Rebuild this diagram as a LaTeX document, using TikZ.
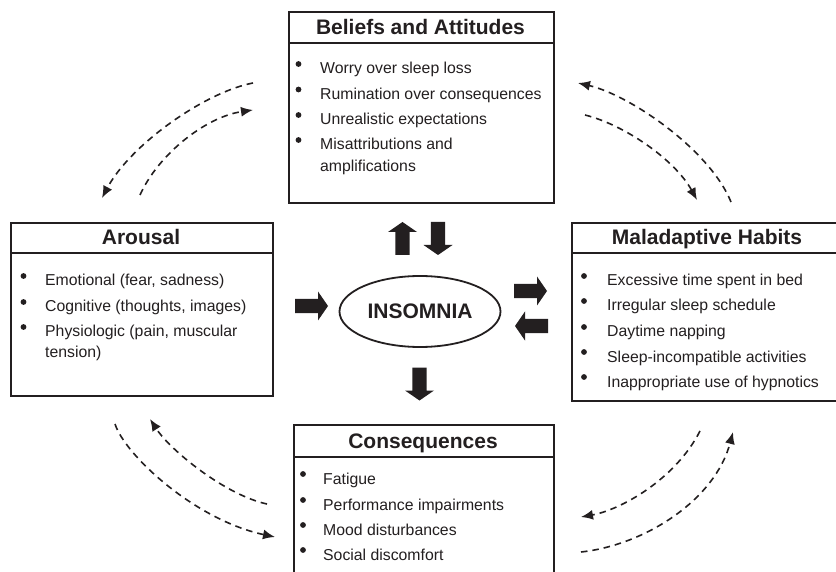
\documentclass[tikz,border=0pt]{standalone}
\usepackage{fontspec}
\setmainfont{Liberation Sans}
\usetikzlibrary{arrows.meta,shapes.geometric}
\definecolor{ink}{RGB}{35,31,32}
\begin{document}
\begin{tikzpicture}[x=1pt,y=-1pt,
  box/.style={draw=ink,line width=1.8pt,inner sep=0,anchor=north west},
  rule/.style={draw=ink,line width=1.8pt},
  head/.style={font=\fontsize{21}{25}\selectfont\bfseries,text=ink,inner sep=0,anchor=base},
  item/.style={font=\fontsize{15.8}{19}\selectfont,text=ink,inner sep=0,anchor=base west},
  dot/.style={fill=ink},
  loop/.style={draw=ink,line width=1.6pt,dash pattern=on 6.5pt off 5pt,-{Latex[length=12pt,width=10pt]}},
  blk/.pic={\fill[ink] (-16.5,-7.2) -- (6.5,-7.2) -- (6.5,-14.5) -- (16.5,0) -- (6.5,14.5) -- (6.5,7.2) -- (-16.5,7.2) -- cycle;}
]
\clip (0,0) rectangle (836,572);
\fill[white] (0,0) rectangle (836,572);

% ---------- Beliefs and Attitudes ----------
\node[box,minimum width=265pt,minimum height=191pt] (beliefs) at (288,11) {};
\draw[rule] (288,43) -- (553,43);
\node[head] (beliefsH) at (420.5,34.5) {Beliefs and Attitudes};
\foreach \y in {74,99.5,125,150} \fill[dot] (298.5,\y-10) circle (2.9);
\node[item] (b1) at (320,74) {Worry over sleep loss};
\node[item] (b2) at (320,99.5) {Rumination over consequences};
\node[item] (b3) at (320,125) {Unrealistic expectations};
\node[item] (b4) at (320,150) {Misattributions and};
\node[item] (b4b) at (320,171.7) {amplifications};

% ---------- Arousal ----------
\node[box,minimum width=262pt,minimum height=173pt] (arousal) at (10,222) {};
\draw[rule] (10,253) -- (272,253);
\node[head] (arousalH) at (141,245) {Arousal};
\foreach \y in {286,312,337} \fill[dot] (23.5,\y-10) circle (2.9);
\node[item] (a1) at (45,286) {Emotional (fear, sadness)};
\node[item] (a2) at (45,312) {Cognitive (thoughts, images)};
\node[item] (a3) at (45,337) {Physiologic (pain, muscular};
\node[item] (a3b) at (45,357.5) {tension)};

% ---------- Maladaptive Habits ----------
\node[box,minimum width=272pt,minimum height=178pt] (habits) at (571,222) {};
\draw[rule] (571,253) -- (843,253);
\node[head] (habitsH) at (707,245) {Maladaptive Habits};
\foreach \y in {286,311,337,362,387} \fill[dot] (584,\y-10) circle (2.9);
\node[item] (h1) at (607,286) {Excessive time spent in bed};
\node[item] (h2) at (607,311) {Irregular sleep schedule};
\node[item] (h3) at (607,337) {Daytime napping};
\node[item] (h4) at (607,362) {Sleep-incompatible activities};
\node[item] (h5) at (607,387) {Inappropriate use of hypnotics};

% ---------- Consequences ----------
\node[box,minimum width=260pt,minimum height=180pt] (conseq) at (293,424) {};
\draw[rule] (293,457) -- (553,457);
\node[head] (conseqH) at (423,448) {Consequences};
\foreach \y in {484,510,535,560} \fill[dot] (303,\y-10) circle (2.9);
\node[item] (c1) at (323,484) {Fatigue};
\node[item] (c2) at (323,510) {Performance impairments};
\node[item] (c3) at (323,535) {Mood disturbances};
\node[item] (c4) at (323,560) {Social discomfort};

% ---------- Insomnia ----------
\node[ellipse,draw=ink,line width=1.8pt,minimum width=161pt,minimum height=71pt,inner sep=0,
      font=\fontsize{21}{25}\selectfont\bfseries,text=ink] (insomnia) at (420,311.5) {INSOMNIA};

% ---------- block arrows ----------
\pic[rotate=90] at (402.5,238.5) {blk};
\pic[rotate=-90] at (438,238.5) {blk};
\pic at (311.5,306) {blk};
\pic at (530.5,291) {blk};
\pic[rotate=180] at (531.5,326) {blk};
\pic[rotate=-90] at (419.5,384) {blk};

% ---------- dashed feedback arrows ----------
\coordinate (tlAs) at (253,83);  \coordinate (tlAe) at (102,198);
\coordinate (tlBs) at (140,195); \coordinate (tlBe) at (253,110);
\coordinate (trAs) at (731,202); \coordinate (trAe) at (578,83);
\coordinate (trBs) at (585,115); \coordinate (trBe) at (697,200);
\coordinate (blAs) at (115,424); \coordinate (blAe) at (275,537);
\coordinate (blBs) at (267,504); \coordinate (blBe) at (150,419);
\coordinate (brAs) at (700,431); \coordinate (brAe) at (581,517);
\coordinate (brBs) at (581,552); \coordinate (brBe) at (733,432);

\draw[loop] (tlAs) .. controls (205,92) and (130,145) .. (tlAe);
\draw[loop] (tlBs) .. controls (158,155) and (205,117) .. (tlBe);
\draw[loop] (trAs) .. controls (710,150) and (630,95) .. (trAe);
\draw[loop] (trBs) .. controls (625,125) and (675,160) .. (trBe);
\draw[loop] (blAs) .. controls (125,455) and (195,520) .. (blAe);
\draw[loop] (blBs) .. controls (225,495) and (170,450) .. (blBe);
\draw[loop] (brAs) .. controls (675,480) and (620,510) .. (brAe);
\draw[loop] (brBs) .. controls (645,545) and (715,500) .. (brBe);
\end{tikzpicture}
\end{document}
